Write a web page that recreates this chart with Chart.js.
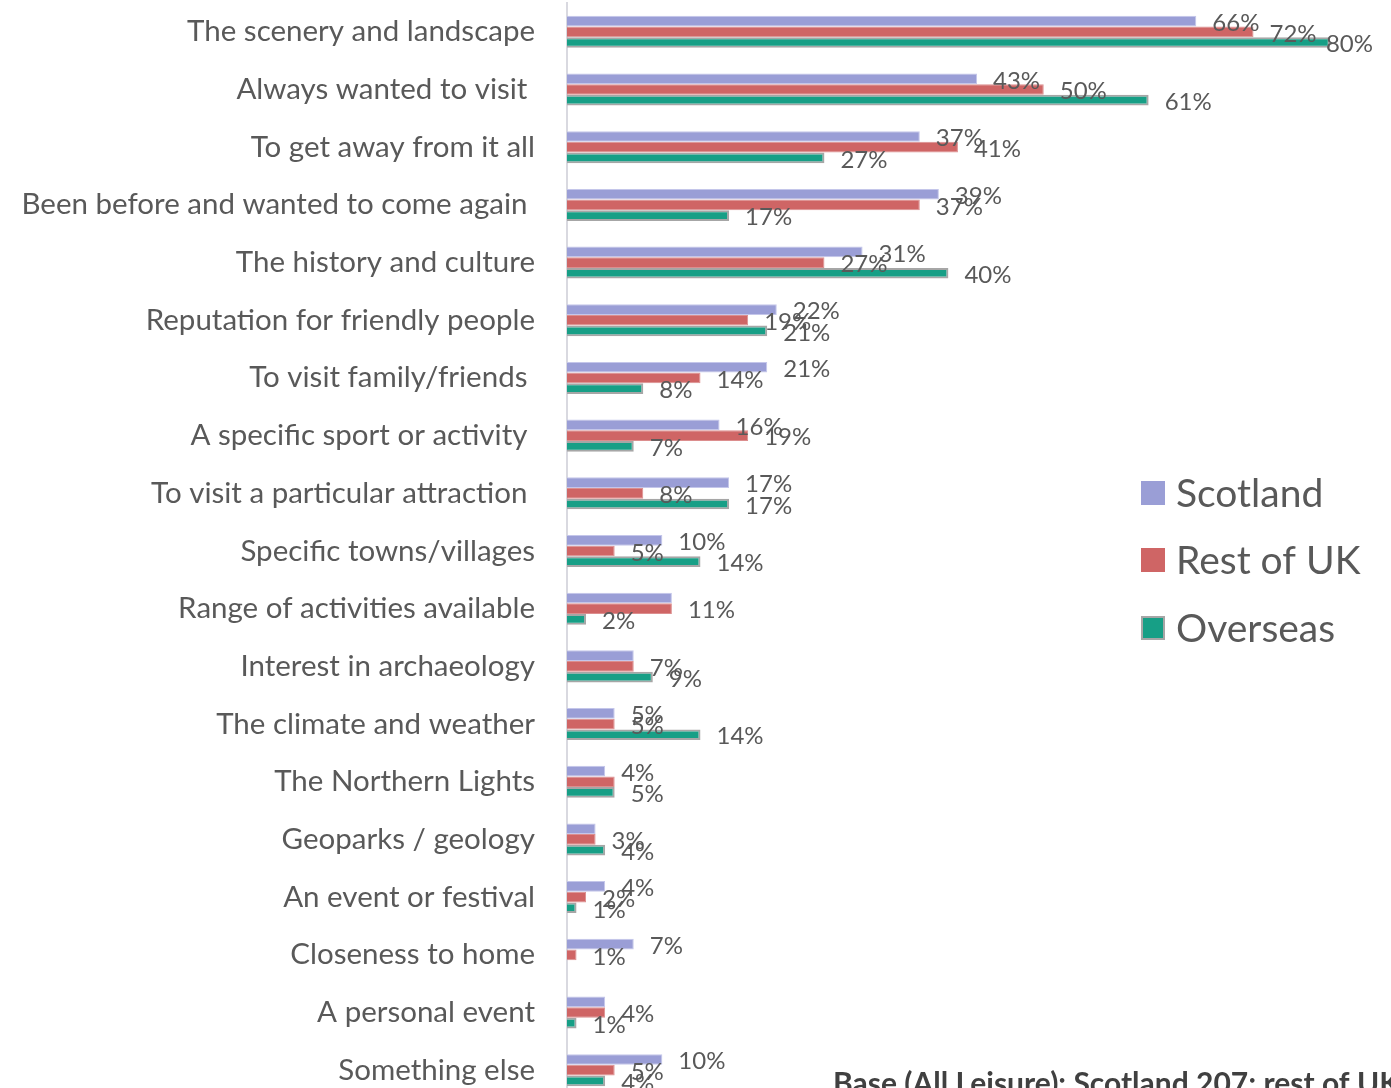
<!DOCTYPE html>
<html>
<head>
<meta charset="utf-8">
<style>
  html, body { margin: 0; padding: 0; background: #fff; overflow: hidden; }
  #wrap { width: 1391px; height: 1102px; }
</style>
</head>
<body>
<div id="wrap"><canvas id="c" width="1391" height="1102"></canvas></div>

<script src="https://cdn.jsdelivr.net/npm/chart.js"></script>
<script>
  const categories = [
    "The scenery and landscape",
    "Always wanted to visit ",
    "To get away from it all",
    "Been before and wanted to come again ",
    "The history and culture",
    "Reputation for friendly people",
    "To visit family/friends ",
    "A specific sport or activity ",
    "To visit a particular attraction ",
    "Specific towns/villages",
    "Range of activities available",
    "Interest in archaeology",
    "The climate and weather",
    "The Northern Lights",
    "Geoparks / geology",
    "An event or festival",
    "Closeness to home",
    "A personal event",
    "Something else"
  ];
  const scotland = [66, 43, 37, 39, 31, 22, 21, 16, 17, 10, 11, 7, 5, 4, 3, 4, 7, 4, 10];
  const restOfUK = [72, 50, 41, 37, 27, 19, 14, 19, 8, 5, 11, 7, 5, 5, 3, 2, 1, 4, 5];
  const overseas = [80, 61, 27, 17, 40, 21, 8, 7, 17, 14, 2, 9, 14, 5, 4, 1, 0, 1, 4];
  // labels that are not shown in the original: [dataset, category]
  const hiddenLabels = [[0, 10], [0, 11], [1, 13], [0, 14], [0, 17]];
  const footnote = "Base (All Leisure): Scotland 207; rest of UK";

  const textGrey = "#595959";

  const valueLabels = {
    id: "valueLabels",
    afterDatasetsDraw(chart) {
      const ctx = chart.ctx;
      ctx.save();
      ctx.font = "24px Lato";
      ctx.fillStyle = textGrey;
      ctx.textBaseline = "middle";
      ctx.textAlign = "left";
      chart.data.datasets.forEach((ds, di) => {
        const meta = chart.getDatasetMeta(di);
        meta.data.forEach((bar, i) => {
          const v = ds.data[i];
          if (!v) return;
          if (hiddenLabels.some(([d, c]) => d === di && c === i)) return;
          const txt = v + "%";
          const w = ctx.measureText(txt).width;
          let x = bar.x + 16;
          if (x + w > chart.width - 18) x = chart.width - 18 - w;
          ctx.fillText(txt, x, bar.y + 2);
        });
      });
      ctx.restore();
    }
  };

  const sideLegend = {
    id: "sideLegend",
    afterDraw(chart) {
      const ctx = chart.ctx;
      ctx.save();
      const ys = [493, 560, 628];
      chart.data.datasets.forEach((ds, i) => {
        ctx.fillStyle = ds.backgroundColor;
        ctx.fillRect(1141, ys[i] - 12, 24, 24);
        if (i === 2) {
          ctx.strokeStyle = "#a6a6a6";
          ctx.lineWidth = 2;
          ctx.strokeRect(1142, ys[i] - 11, 22, 22);
        }
        ctx.fillStyle = textGrey;
        ctx.font = "39px Lato";
        ctx.textBaseline = "middle";
        ctx.fillText(ds.label, 1176, ys[i] + 1);
      });
      ctx.font = "bold 30px Lato";
      ctx.fillStyle = "#404040";
      ctx.textBaseline = "alphabetic";
      ctx.fillText(footnote, 833, 1094);
      ctx.restore();
    }
  };

  new Chart(document.getElementById("c"), {
    type: "bar",
    data: {
      labels: categories,
      datasets: [
        { label: "Scotland", data: scotland, backgroundColor: "#9a9ed6", borderColor: "#c4c6ea", borderWidth: 1 },
        { label: "Rest of UK", data: restOfUK, backgroundColor: "#cf6565", borderColor: "#dc8e8e", borderWidth: 1 },
        { label: "Overseas", data: overseas, backgroundColor: "#179f86", borderColor: "#a6a6a6", borderWidth: 2 }
      ]
    },
    options: {
      indexAxis: "y",
      responsive: false,
      animation: false,
      layout: { padding: { top: 3, bottom: 3, left: 0, right: 4 } },
      datasets: { bar: { categoryPercentage: 0.555, barPercentage: 1, borderSkipped: "start" } },
      plugins: { legend: { display: false }, tooltip: { enabled: false } },
      scales: {
        x: { display: false, min: 0, max: 86 },
        y: {
          afterFit: s => { s.width = 567; s.paddingTop = 0; s.paddingBottom = 0; },
          grid: { display: false, drawTicks: false },
          border: { display: true, color: "#d9d9e0", width: 2 },
          ticks: { color: textGrey, font: { family: "Lato", size: 29.5 }, padding: 32 }
        }
      }
    },
    plugins: [valueLabels, sideLegend]
  });
</script>
</body>
</html>
